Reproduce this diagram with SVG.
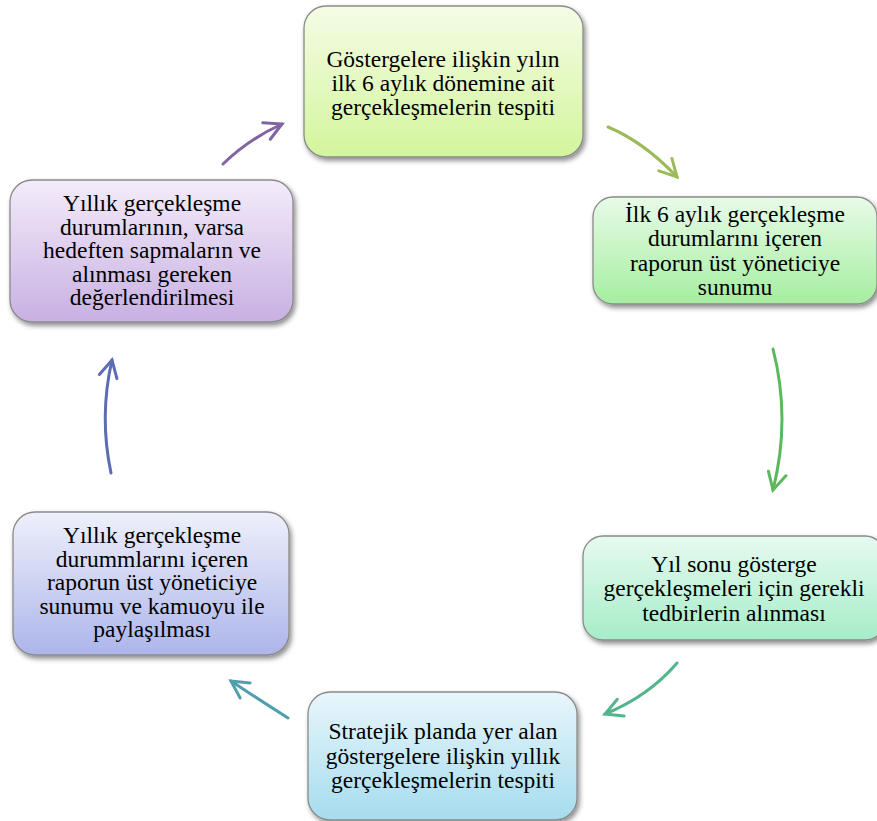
<svg xmlns="http://www.w3.org/2000/svg" width="877" height="821" viewBox="0 0 877 821">
<style>
.box{stroke:#8a8a8a;stroke-width:1.3;filter:url(#sh)}
.t{font-family:'Liberation Serif','Times New Roman','DejaVu Serif',serif;font-size:23.5px;fill:#000;text-anchor:middle}
.c{fill:none;stroke-width:3;stroke-linecap:round}
.h{fill:none;stroke-width:3;stroke-linecap:round;stroke-linejoin:miter}
</style>
<defs>
<filter id="sh" x="-10%" y="-10%" width="125%" height="130%">
<feDropShadow dx="2" dy="3" stdDeviation="2.5" flood-color="#000" flood-opacity="0.45"/>
</filter>
<linearGradient id="g1" x1="0" y1="0" x2="0" y2="1"><stop offset="0" stop-color="#f5fce6"/><stop offset="1" stop-color="#d3f59c"/></linearGradient>
<linearGradient id="g2" x1="0" y1="0" x2="0" y2="1"><stop offset="0" stop-color="#e8fbe8"/><stop offset="1" stop-color="#a5eea0"/></linearGradient>
<linearGradient id="g3" x1="0" y1="0" x2="0" y2="1"><stop offset="0" stop-color="#e6faf0"/><stop offset="1" stop-color="#a6edc8"/></linearGradient>
<linearGradient id="g4" x1="0" y1="0" x2="0" y2="1"><stop offset="0" stop-color="#e8f6fb"/><stop offset="1" stop-color="#a6dcee"/></linearGradient>
<linearGradient id="g5" x1="0" y1="0" x2="0" y2="1"><stop offset="0" stop-color="#eef0fb"/><stop offset="1" stop-color="#adb5ea"/></linearGradient>
<linearGradient id="g6" x1="0" y1="0" x2="0" y2="1"><stop offset="0" stop-color="#f3ecf9"/><stop offset="1" stop-color="#c8b0e3"/></linearGradient>
<marker id="m1" viewBox="0 0 22 22" refX="19" refY="11" markerWidth="22" markerHeight="22" markerUnits="userSpaceOnUse" orient="auto"><path d="M2,2 L19,11 L2,20" class="h" stroke="#9bbb59"/></marker>
<marker id="m2" viewBox="0 0 22 22" refX="19" refY="11" markerWidth="22" markerHeight="22" markerUnits="userSpaceOnUse" orient="auto"><path d="M2,2 L19,11 L2,20" class="h" stroke="#5cb85c"/></marker>
<marker id="m3" viewBox="0 0 22 22" refX="19" refY="11" markerWidth="22" markerHeight="22" markerUnits="userSpaceOnUse" orient="auto"><path d="M2,2 L19,11 L2,20" class="h" stroke="#52b58c"/></marker>
<marker id="m4" viewBox="0 0 22 22" refX="19" refY="11" markerWidth="22" markerHeight="22" markerUnits="userSpaceOnUse" orient="auto"><path d="M2,2 L19,11 L2,20" class="h" stroke="#4f9fae"/></marker>
<marker id="m5" viewBox="0 0 22 22" refX="19" refY="11" markerWidth="22" markerHeight="22" markerUnits="userSpaceOnUse" orient="auto"><path d="M2,2 L19,11 L2,20" class="h" stroke="#5b6db3"/></marker>
<marker id="m6" viewBox="0 0 22 22" refX="19" refY="11" markerWidth="22" markerHeight="22" markerUnits="userSpaceOnUse" orient="auto"><path d="M2,2 L19,11 L2,20" class="h" stroke="#8064a2"/></marker>
</defs>
<rect width="877" height="821" fill="#fff"/>
<g id="connectors">
<path class="c" stroke="#9bbb59" marker-end="url(#m1)" d="M608,127 Q644,142 677,177"/>
<path class="c" stroke="#5cb85c" marker-end="url(#m2)" d="M773,349 Q791,419 773,490"/>
<path class="c" stroke="#52b58c" marker-end="url(#m3)" d="M677,663 Q649,696 605,714"/>
<path class="c" stroke="#4f9fae" marker-end="url(#m4)" d="M288,718 Q255,697 231,681"/>
<path class="c" stroke="#5b6db3" marker-end="url(#m5)" d="M111,473 Q99,416 112,360"/>
<path class="c" stroke="#8064a2" marker-end="url(#m6)" d="M223,164 Q249,139 282,124"/>
</g>
<g id="n1">
<rect class="box" x="304" y="6" width="279" height="151" rx="22" fill="url(#g1)"/>
<text class="t" font-family="Liberation Serif, serif"><tspan x="443" y="67">Göstergelere ilişkin yılın</tspan><tspan x="443" y="91">ilk 6 aylık dönemine ait</tspan><tspan x="443" y="115">gerçekleşmelerin tespiti</tspan></text>
</g>
<g id="n2">
<rect class="box" x="593" y="197" width="284" height="107" rx="20" fill="url(#g2)"/>
<text class="t" font-family="Liberation Serif, serif"><tspan x="735" y="222">İlk 6 aylık gerçekleşme</tspan><tspan x="735" y="246">durumlarını içeren</tspan><tspan x="735" y="271">raporun üst yöneticiye</tspan><tspan x="735" y="295">sunumu</tspan></text>
</g>
<g id="n3">
<rect class="box" x="583" y="536" width="302" height="104" rx="20" fill="url(#g3)"/>
<text class="t" font-family="Liberation Serif, serif"><tspan x="734" y="572">Yıl sonu gösterge</tspan><tspan x="734" y="596">gerçekleşmeleri için gerekli</tspan><tspan x="734" y="621">tedbirlerin alınması</tspan></text>
</g>
<g id="n4">
<rect class="box" x="308" y="692" width="269" height="128" rx="22" fill="url(#g4)"/>
<text class="t" font-family="Liberation Serif, serif"><tspan x="443" y="739">Stratejik planda yer alan</tspan><tspan x="443" y="764">göstergelere ilişkin yıllık</tspan><tspan x="443" y="788">gerçekleşmelerin tespiti</tspan></text>
</g>
<g id="n5">
<rect class="box" x="13" y="512" width="276" height="143" rx="22" fill="url(#g5)"/>
<text class="t" font-family="Liberation Serif, serif"><tspan x="152" y="543">Yıllık gerçekleşme</tspan><tspan x="152" y="567">durummlarını içeren</tspan><tspan x="152" y="590">raporun üst yöneticiye</tspan><tspan x="152" y="614">sunumu ve kamuoyu ile</tspan><tspan x="152" y="637">paylaşılması</tspan></text>
</g>
<g id="n6">
<rect class="box" x="10" y="180" width="283" height="142" rx="22" fill="url(#g6)"/>
<text class="t" font-family="Liberation Serif, serif"><tspan x="152" y="211">Yıllık gerçekleşme</tspan><tspan x="152" y="235">durumlarının, varsa</tspan><tspan x="152" y="258">hedeften sapmaların ve</tspan><tspan x="152" y="282">alınması gereken</tspan><tspan x="152" y="305">değerlendirilmesi</tspan></text>
</g>
</svg>
